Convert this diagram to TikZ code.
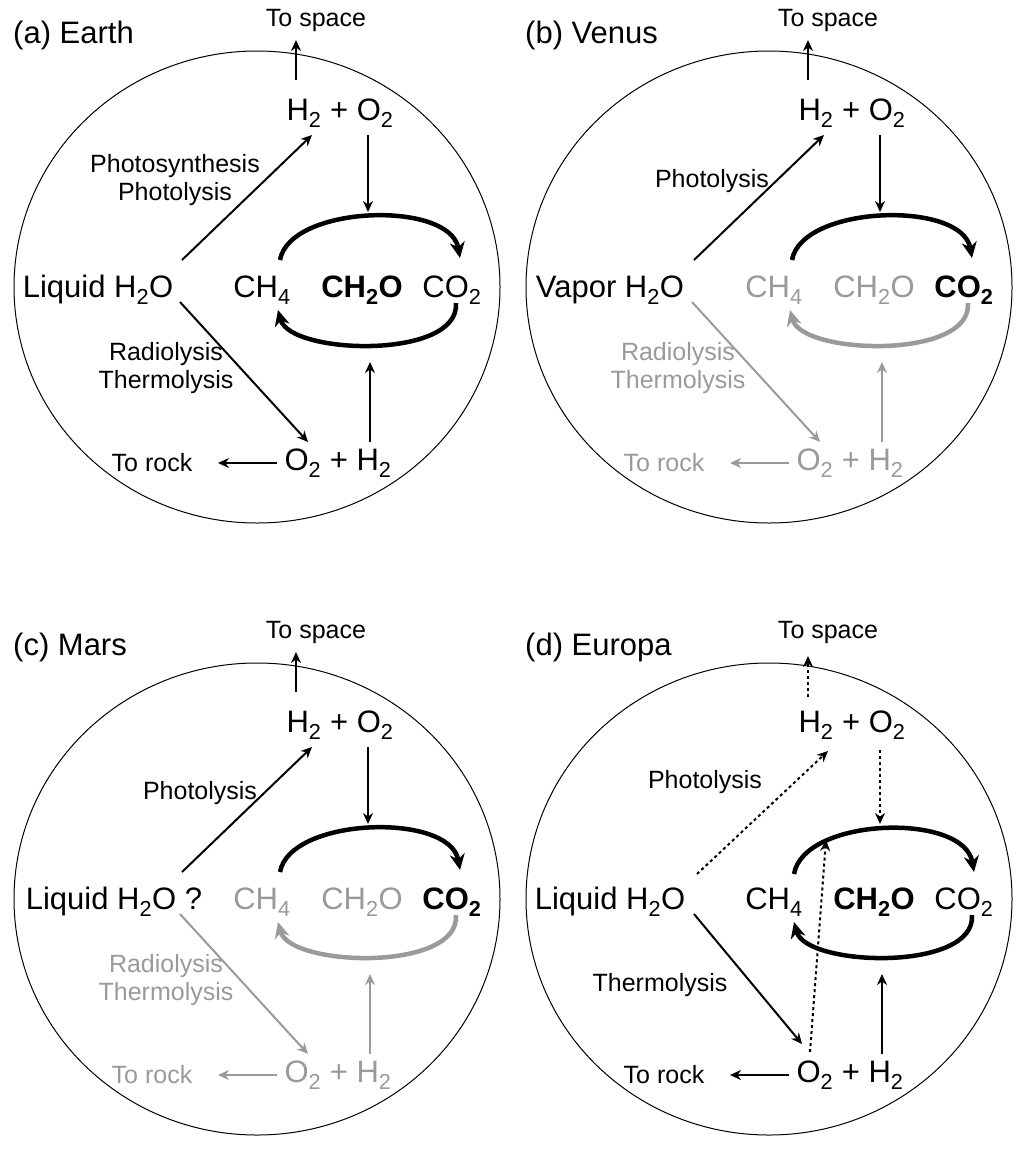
\documentclass[tikz,border=0pt]{standalone}
\usepackage{fontspec}
\setmainfont{Liberation Sans}
\usetikzlibrary{arrows.meta}
\definecolor{gr}{HTML}{9A9A9A}
\tikzset{
  big/.style={font=\fontsize{31}{33}\selectfont, inner sep=1pt},
  small/.style={font=\fontsize{25}{28}\selectfont, inner sep=1pt},
  ar/.style={-{Stealth[length=11pt,width=10pt]}, line width=2pt},
  dt/.style={ar, dash pattern=on 3pt off 3pt},
  cyc/.style={-{Stealth[length=16pt,width=15pt]}, line width=4.5pt},
  rim/.style={line width=1pt},
}
\newcommand\Ht{H\textsubscript{2}}
\newcommand\Ot{O\textsubscript{2}}
\begin{document}
\begin{tikzpicture}[x=1pt,y=-1pt]
\useasboundingbox (0,0) rectangle (1024,1159);
% ---------------- (a) Earth
\begin{scope}
\draw[rim] (257,287) ellipse [x radius=243, y radius=236];
\node[big,anchor=west] (a-t) at (12,35) {(a) Earth};
\node[small] (a-sp) at (316,20) {To space};
\node[big] (a-top) at (340,113) {\Ht{} + \Ot};
\node[big] (a-w) at (98,290) {Liquid H\textsubscript{2}O};
\node[big] (a-m) at (262,290) {CH\textsubscript{4}};
\node[big] (a-f) at (362,290) {\textbf{CH\textsubscript{2}O}};
\node[big] (a-c) at (452,290) {CO\textsubscript{2}};
\node[big] (a-bot) at (338,463) {\Ot{} + \Ht};
\node[small] (a-rk) at (152,463) {To rock};
\node[small,align=center] (a-l1) at (175,180) {Photosynthesis\\Photolysis};
\node[small,align=center] (a-l2) at (166,368) {Radiolysis\\Thermolysis};
\coordinate (a-s0) at (296,80); \coordinate (a-s1) at (296,40);
\draw[ar] (a-s0) -- (a-s1);
\coordinate (a-d0) at (368,135); \coordinate (a-d1) at (368,212);
\draw[ar] (a-d0) -- (a-d1);
\coordinate (a-u0) at (370,442); \coordinate (a-u1) at (370,362);
\draw[ar] (a-u0) -- (a-u1);
\coordinate (a-p0) at (182,260); \coordinate (a-p1) at (312,135);
\draw[ar] (a-p0) -- (a-p1);
\coordinate (a-r0) at (180,302); \coordinate (a-r1) at (308,442);
\draw[ar] (a-r0) -- (a-r1);
\draw[ar] (a-bot.west) ++(-6,0) coordinate (a-k0) -- (218,463) coordinate (a-k1);
\draw[cyc] (280,260) .. controls (290,205) and (450,200) .. (460,258);
\draw[cyc] (456,303) .. controls (460,360) and (290,355) .. (278,310);
\end{scope}
% ---------------- (b) Venus
\begin{scope}[xshift=512pt]
\draw[rim] (257,287) ellipse [x radius=243, y radius=236];
\node[big,anchor=west] (b-t) at (12,35) {(b) Venus};
\node[small] (b-sp) at (316,20) {To space};
\node[big] (b-top) at (340,113) {\Ht{} + \Ot};
\node[big] (b-w) at (98,290) {Vapor H\textsubscript{2}O};
\node[big,gr] (b-m) at (262,290) {CH\textsubscript{4}};
\node[big,gr] (b-f) at (362,290) {CH\textsubscript{2}O};
\node[big] (b-c) at (452,290) {\textbf{CO\textsubscript{2}}};
\node[big,gr] (b-bot) at (338,463) {\Ot{} + \Ht};
\node[small,gr] (b-rk) at (152,463) {To rock};
\node[small] (b-l1) at (200,181) {Photolysis};
\node[small,align=center,gr] (b-l2) at (166,368) {Radiolysis\\Thermolysis};
\coordinate (b-s0) at (296,80); \coordinate (b-s1) at (296,40);
\draw[ar] (b-s0) -- (b-s1);
\coordinate (b-d0) at (368,135); \coordinate (b-d1) at (368,212);
\draw[ar] (b-d0) -- (b-d1);
\coordinate (b-u0) at (370,442); \coordinate (b-u1) at (370,362);
\draw[ar,gr] (b-u0) -- (b-u1);
\coordinate (b-p0) at (182,260); \coordinate (b-p1) at (312,135);
\draw[ar] (b-p0) -- (b-p1);
\coordinate (b-r0) at (180,302); \coordinate (b-r1) at (308,442);
\draw[ar,gr] (b-r0) -- (b-r1);
\draw[ar,gr] (b-bot.west) ++(-6,0) coordinate (b-k0) -- (218,463) coordinate (b-k1);
\draw[cyc] (280,260) .. controls (290,205) and (450,200) .. (460,258);
\draw[cyc,gr] (456,303) .. controls (460,360) and (290,355) .. (278,310);
\end{scope}
% ---------------- (c) Mars
\begin{scope}[yshift=-612pt]
\draw[rim] (257,287) ellipse [x radius=243, y radius=236];
\node[big,anchor=west] (c-t) at (12,35) {(c) Mars};
\node[small] (c-sp) at (316,20) {To space};
\node[big] (c-top) at (340,113) {\Ht{} + \Ot};
\node[big] (c-w) at (114,290) {Liquid H\textsubscript{2}O ?};
\node[big,gr] (c-m) at (262,290) {CH\textsubscript{4}};
\node[big,gr] (c-f) at (362,290) {CH\textsubscript{2}O};
\node[big] (c-c) at (452,290) {\textbf{CO\textsubscript{2}}};
\node[big,gr] (c-bot) at (338,463) {\Ot{} + \Ht};
\node[small,gr] (c-rk) at (152,463) {To rock};
\node[small] (c-l1) at (200,181) {Photolysis};
\node[small,align=center,gr] (c-l2) at (166,368) {Radiolysis\\Thermolysis};
\coordinate (c-s0) at (296,80); \coordinate (c-s1) at (296,40);
\draw[ar] (c-s0) -- (c-s1);
\coordinate (c-d0) at (368,135); \coordinate (c-d1) at (368,212);
\draw[ar] (c-d0) -- (c-d1);
\coordinate (c-u0) at (370,442); \coordinate (c-u1) at (370,362);
\draw[ar,gr] (c-u0) -- (c-u1);
\coordinate (c-p0) at (182,260); \coordinate (c-p1) at (312,135);
\draw[ar] (c-p0) -- (c-p1);
\coordinate (c-r0) at (180,302); \coordinate (c-r1) at (308,442);
\draw[ar,gr] (c-r0) -- (c-r1);
\draw[ar,gr] (c-bot.west) ++(-6,0) coordinate (c-k0) -- (218,463) coordinate (c-k1);
\draw[cyc] (280,260) .. controls (290,205) and (450,200) .. (460,258);
\draw[cyc,gr] (456,303) .. controls (460,360) and (290,355) .. (278,310);
\end{scope}
% ---------------- (d) Europa
\begin{scope}[xshift=512pt,yshift=-612pt]
\draw[rim] (257,287) ellipse [x radius=243, y radius=236];
\node[big,anchor=west] (d-t) at (12,35) {(d) Europa};
\node[small] (d-sp) at (316,20) {To space};
\node[big] (d-top) at (340,113) {\Ht{} + \Ot};
\node[big] (d-w) at (98,290) {Liquid H\textsubscript{2}O};
\node[big] (d-m) at (262,290) {CH\textsubscript{4}};
\node[big] (d-f) at (362,290) {\textbf{CH\textsubscript{2}O}};
\node[big] (d-c) at (452,290) {CO\textsubscript{2}};
\node[big] (d-bot) at (338,463) {\Ot{} + \Ht};
\node[small] (d-rk) at (152,463) {To rock};
\node[small] (d-l1) at (193,170) {Photolysis};
\node[small] (d-l2) at (148,373) {Thermolysis};
\coordinate (d-s0) at (296,85); \coordinate (d-s1) at (296,44);
\draw[dt] (d-s0) -- (d-s1);
\coordinate (d-d0) at (368,138); \coordinate (d-d1) at (368,212);
\draw[dt] (d-d0) -- (d-d1);
\coordinate (d-u0) at (370,442); \coordinate (d-u1) at (370,362);
\draw[ar] (d-u0) -- (d-u1);
\coordinate (d-p0) at (185,262); \coordinate (d-p1) at (316,139);
\draw[dt] (d-p0) -- (d-p1);
\coordinate (d-r0) at (182,302); \coordinate (d-r1) at (290,432);
\draw[ar] (d-r0) -- (d-r1);
\coordinate (d-q0) at (298,440); \coordinate (d-q1) at (314,228);
\draw[dt] (d-q0) -- (d-q1);
\draw[ar] (d-bot.west) ++(-6,0) coordinate (d-k0) -- (218,463) coordinate (d-k1);
\draw[cyc] (282,262) .. controls (292,205) and (452,200) .. (462,260);
\draw[cyc] (460,303) .. controls (464,360) and (294,355) .. (282,310);
\end{scope}
\end{tikzpicture}
\end{document}
